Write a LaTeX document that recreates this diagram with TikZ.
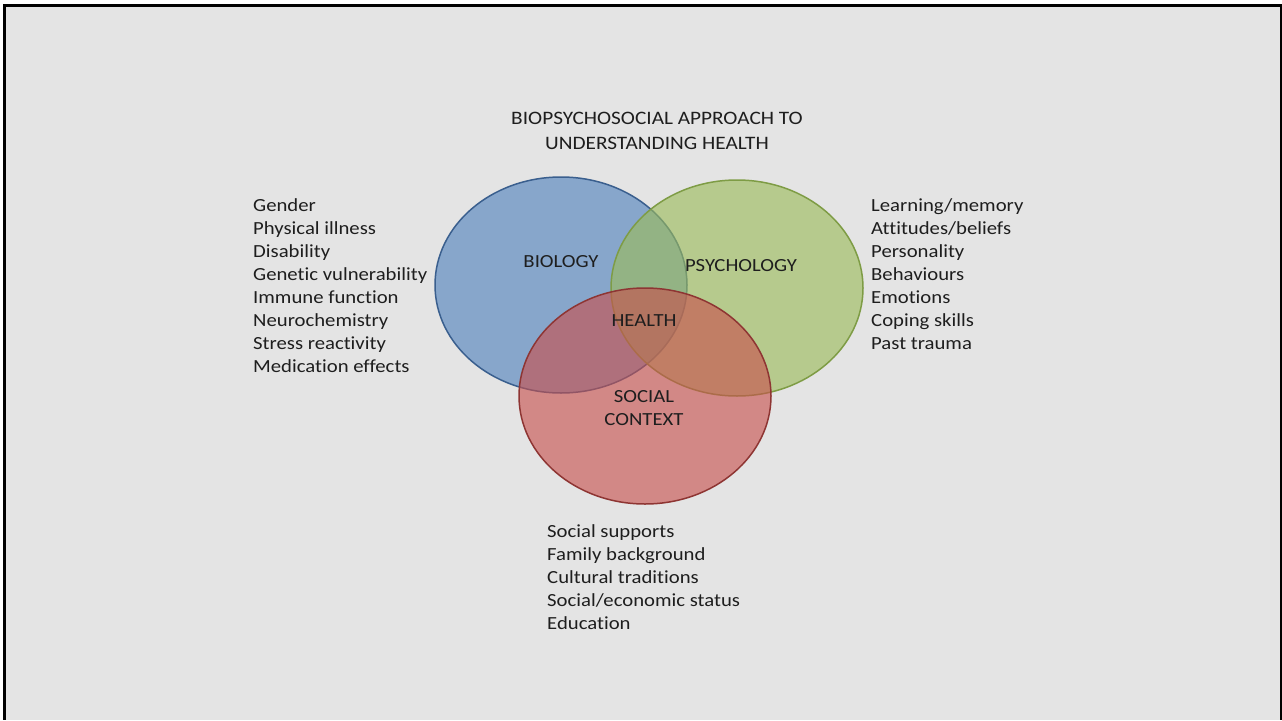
\documentclass[tikz,border=0pt]{standalone}
\usepackage{fontspec}
\setmainfont{Carlito}[Ligatures=NoCommon, FakeStretch=1.12]
\usetikzlibrary{shapes.geometric}
\definecolor{bg}{HTML}{E4E4E4}
\definecolor{bluef}{HTML}{4F81BD}
\definecolor{blued}{HTML}{3A5F8E}
\definecolor{greenf}{HTML}{9BBB59}
\definecolor{greend}{HTML}{7E9C45}
\definecolor{redf}{HTML}{C8504D}
\definecolor{redd}{HTML}{8E3533}
\definecolor{txt}{HTML}{1E1E1E}
\tikzset{
  circ/.style={ellipse, minimum width=252pt, minimum height=216pt, line width=1.5pt, fill opacity=0.62, inner sep=0pt},
  listtext/.style={anchor=north west, align=left, inner sep=0pt, text=txt, font=\fontsize{18.5}{23}\selectfont},
  lab/.style={inner sep=0pt, text=txt, font=\fontsize{18.5}{23}\selectfont, align=center},
}
\begin{document}
\begin{tikzpicture}[x=1pt,y=-1pt]
\useasboundingbox (0,0) rectangle (1282,720);
\fill[black] (3,4) rectangle (1282,720);
\fill[bg] (6,7) rectangle (1280,720);
\node[circ, draw=blued, fill=bluef] (bio) at (561,285) {};
\node[circ, draw=greend, fill=greenf] (psy) at (737,288) {};
\node[circ, draw=redd, fill=redf] (soc) at (645,396) {};
\node[lab, font=\fontsize{19}{25}\selectfont] (title) at (657,131) {BIOPSYCHOSOCIAL APPROACH TO\\UNDERSTANDING HEALTH};
\node[lab] (biol) at (561,262) {BIOLOGY};
\node[lab] (psyl) at (741,266) {PSYCHOLOGY};
\node[lab] (heal) at (644,321) {HEALTH};
\node[lab] (socl) at (644,408) {SOCIAL\\CONTEXT};
\node[listtext] (bl) at (253,198) {Gender\\Physical illness\\Disability\\Genetic vulnerability\\Immune function\\Neurochemistry\\Stress reactivity\\Medication effects};
\node[listtext] (pl) at (871,198) {Learning/memory\\Attitudes/beliefs\\Personality\\Behaviours\\Emotions\\Coping skills\\Past trauma};
\node[listtext] (sl) at (547,524) {Social supports\\Family background\\Cultural traditions\\Social/economic status\\Education};
\end{tikzpicture}
\end{document}
